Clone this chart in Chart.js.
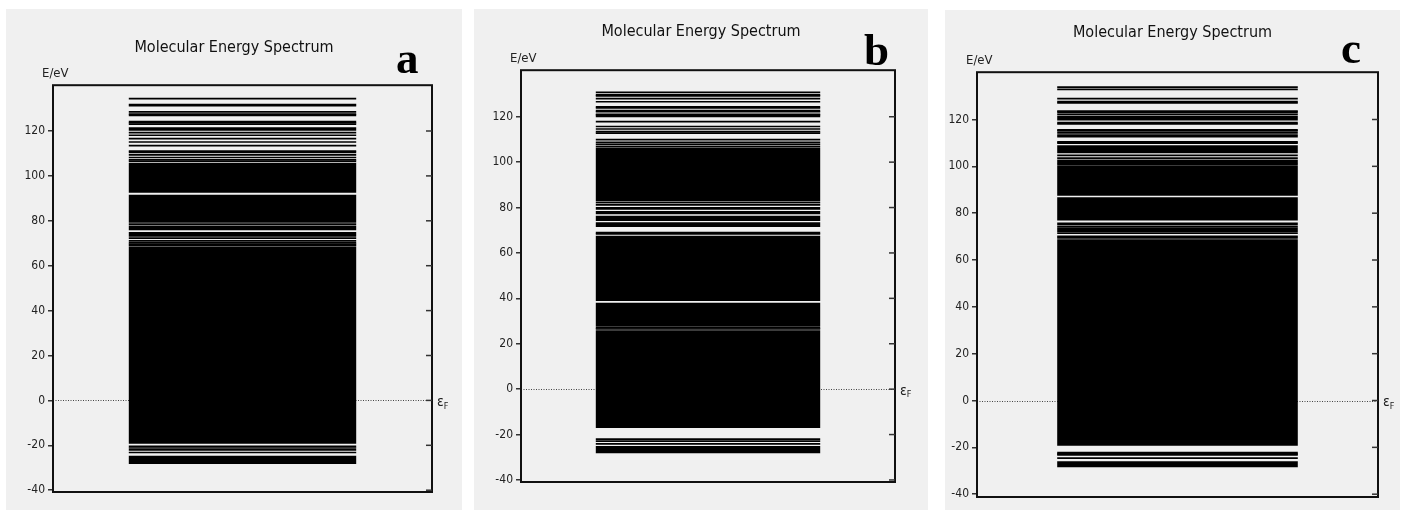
<!DOCTYPE html>
<html><head><meta charset="utf-8">
<script src="https://cdn.jsdelivr.net/npm/chart.js@4.4.0/dist/chart.umd.min.js"></script>
<style>
html,body{margin:0;padding:0;background:#fff;width:1405px;height:511px;overflow:hidden}
.panel{position:absolute;background:#f0f0f0}
canvas{display:block}
</style></head><body>
<div class="panel" style="left:6px;top:9px;width:456px;height:501px"><canvas id="ca" width="456" height="501"></canvas></div>
<div class="panel" style="left:474px;top:9px;width:454px;height:501px"><canvas id="cb" width="454" height="501"></canvas></div>
<div class="panel" style="left:945px;top:10px;width:455px;height:500px"><canvas id="cc" width="455" height="500"></canvas></div>
<script>
// ---- data (energies in eV) ----
const panelLetters = ['a', 'b', 'c'];
const titleText = 'Molecular Energy Spectrum';
const yTicks = [-40, -20, 0, 20, 40, 60, 80, 100, 120];

// quasi-continuous (dense) level bands [low, high]
const bandsA = [[-28.3,-24.6],[-19.3,68.4],[72.9,75.0],[75.8,77.9],[79.1,91.6],[92.5,105.9]];
// discrete levels
const levelsA = [-23.2,-22.0,-21.2,-20.5,68.9,69.5,70.2,71.1,72.3,78.5,106.6,107.2,108.2,109.4,110.5,111.0,113.5,115.1,116.6,118.1,119.3,120.5,121.3,123.0,123.6,124.2,127.0,127.5,128.5,131.3,131.8,134.4];

const bandsB = [[-28.2,-25.0],[-17.1,26.0],[27.5,38.1],[38.8,67.6],[71.4,73.5],[74.1,76.4],[77.0,78.5],[79.0,80.2],[80.8,81.7],[82.9,106.3]];
const levelsB = [-24.1,-22.9,-22.0,26.5,27.0,68.4,69.0,82.3,106.8,107.8,108.7,109.9,112.8,113.4,114.6,115.7,117.8,120.1,120.7,121.0,122.2,122.7,123.9,124.4,126.6,128.0,129.2,129.6,130.7];

const bandsC = [[-28.5,-25.9],[-19.3,68.9],[72.0,74.0],[74.9,76.0],[76.9,86.8],[87.4,100.5],[101.3,102.8],[103.0,103.9],[105.6,109.0],[119.6,121.6]];
const levelsC = [-24.6,-23.2,-22.8,-22.3,69.5,70.1,71.5,74.4,101.0,104.7,109.9,110.4,112.7,113.3,114.3,115.1,115.6,118.1,118.7,122.2,123.1,123.6,127.1,127.6,128.9,132.9,133.8];

// ---- rendering ----
const FAMILY = '"DejaVu Sans Condensed", "Liberation Sans Narrow", "Liberation Sans", sans-serif';
const fontStr = (size) => size + 'px ' + FAMILY;
const LINE_HALF = 0.38; // half thickness of a single level line, eV

function buildData(bands, levels) {
  return bands.map(b => ({x: 'E', y: [b[0], b[1]]}))
    .concat(levels.map(e => ({x: 'E', y: [e - LINE_HALF, e + LINE_HALF]})));
}

const framePlugin = {
  id: 'frame',
  beforeDatasetsDraw(chart) {
    const {ctx, chartArea: ca} = chart;
    const y0 = chart.scales.y.getPixelForValue(0);
    ctx.save();
    ctx.strokeStyle = '#444';
    ctx.lineWidth = 1;
    ctx.setLineDash([1, 1.5]);
    ctx.beginPath();
    ctx.moveTo(ca.left, Math.round(y0) + 0.5);
    ctx.lineTo(ca.right, Math.round(y0) + 0.5);
    ctx.stroke();
    ctx.restore();
  },
  afterDatasetsDraw(chart, args, opts) {
    const {ctx, chartArea: ca} = chart;
    const ys = chart.scales.y;
    ctx.save();
    ctx.strokeStyle = '#111';
    ctx.lineWidth = 2;
    ctx.strokeRect(ca.left, ca.top, ca.right - ca.left, ca.bottom - ca.top);
    ctx.strokeStyle = '#333';
    ctx.lineWidth = 1.5;
    ys.ticks.forEach(t => {
      const py = ys.getPixelForValue(t.value);
      ctx.beginPath();
      ctx.moveTo(ca.right - 6, py);
      ctx.lineTo(ca.right, py);
      ctx.stroke();
    });
    ctx.fillStyle = '#222';
    ctx.font = fontStr(13);
    ctx.textBaseline = 'middle';
    ctx.textAlign = 'left';
    ctx.fillText('E/eV', ca.left - 11, ca.top - 12);
    const y0 = ys.getPixelForValue(0);
    ctx.font = fontStr(14);
    ctx.fillText('ε', ca.right + 5, y0 + 2);
    const w = ctx.measureText('ε').width;
    ctx.font = fontStr(9);
    ctx.fillText('F', ca.right + 5 + w, y0 + 6);
    ctx.fillStyle = '#000';
    ctx.font = 'bold 45px "Liberation Serif", "Times New Roman", serif';
    ctx.textBaseline = 'alphabetic';
    ctx.fillText(opts.letter, opts.lx, opts.ly);
    ctx.restore();
  }
};

const panelSetup = [
  {id: 'ca', bands: bandsA, levels: levelsA, yMin: -40.8, yMax: 140.4, axisW: 47, right: 30, bottom: 18, tTop: 29, tBottom: 28, lx: 390, ly: 64},
  {id: 'cb', bands: bandsB, levels: levelsB, yMin: -40.9, yMax: 140.5, axisW: 47, right: 33, bottom: 28, tTop: 13, tBottom: 29, lx: 390, ly: 56},
  {id: 'cc', bands: bandsC, levels: levelsC, yMin: -41.2, yMax: 140.2, axisW: 32, right: 22, bottom: 13, tTop: 13, tBottom: 30, lx: 396, ly: 53}
];

panelSetup.forEach((p, i) => {
  new Chart(document.getElementById(p.id), {
    type: 'bar',
    data: {
      labels: ['E'],
      datasets: [{
        data: buildData(p.bands, p.levels),
        backgroundColor: '#000',
        borderWidth: 0,
        barPercentage: 0.6,
        categoryPercentage: 1.0
      }]
    },
    options: {
      responsive: false,
      animation: false,
      devicePixelRatio: 1,
      layout: {autoPadding: false, padding: {left: 0, top: 0, right: 0, bottom: p.bottom}},
      plugins: {
        legend: {display: false},
        tooltip: {enabled: false},
        title: {
          display: true,
          text: titleText,
          color: '#111',
          font: {family: FAMILY, size: 16, weight: 'normal', lineHeight: 1.2},
          padding: {top: p.tTop, bottom: p.tBottom}
        },
        frame: {letter: panelLetters[i], lx: p.lx, ly: p.ly}
      },
      scales: {
        x: {display: false},
        y: {
          type: 'linear',
          position: 'left',
          min: p.yMin,
          max: p.yMax,
          afterBuildTicks(scale) { scale.ticks = yTicks.map(v => ({value: v})); },
          afterFit(scale) { scale.width = p.axisW; scale.paddingTop = 0; scale.paddingBottom = 0; },
          border: {display: false},
          grid: {drawOnChartArea: false, drawTicks: true, tickLength: 5, color: '#333', lineWidth: 1.5},
          ticks: {padding: 3, color: '#222', font: {family: FAMILY, size: 12}}
        },
        yRight: {
          type: 'linear',
          position: 'right',
          min: p.yMin,
          max: p.yMax,
          afterFit(scale) { scale.width = p.right; scale.paddingTop = 0; scale.paddingBottom = 0; },
          border: {display: false},
          grid: {display: false},
          ticks: {display: false}
        }
      }
    },
    plugins: [framePlugin]
  });
});
</script>
</body></html>
